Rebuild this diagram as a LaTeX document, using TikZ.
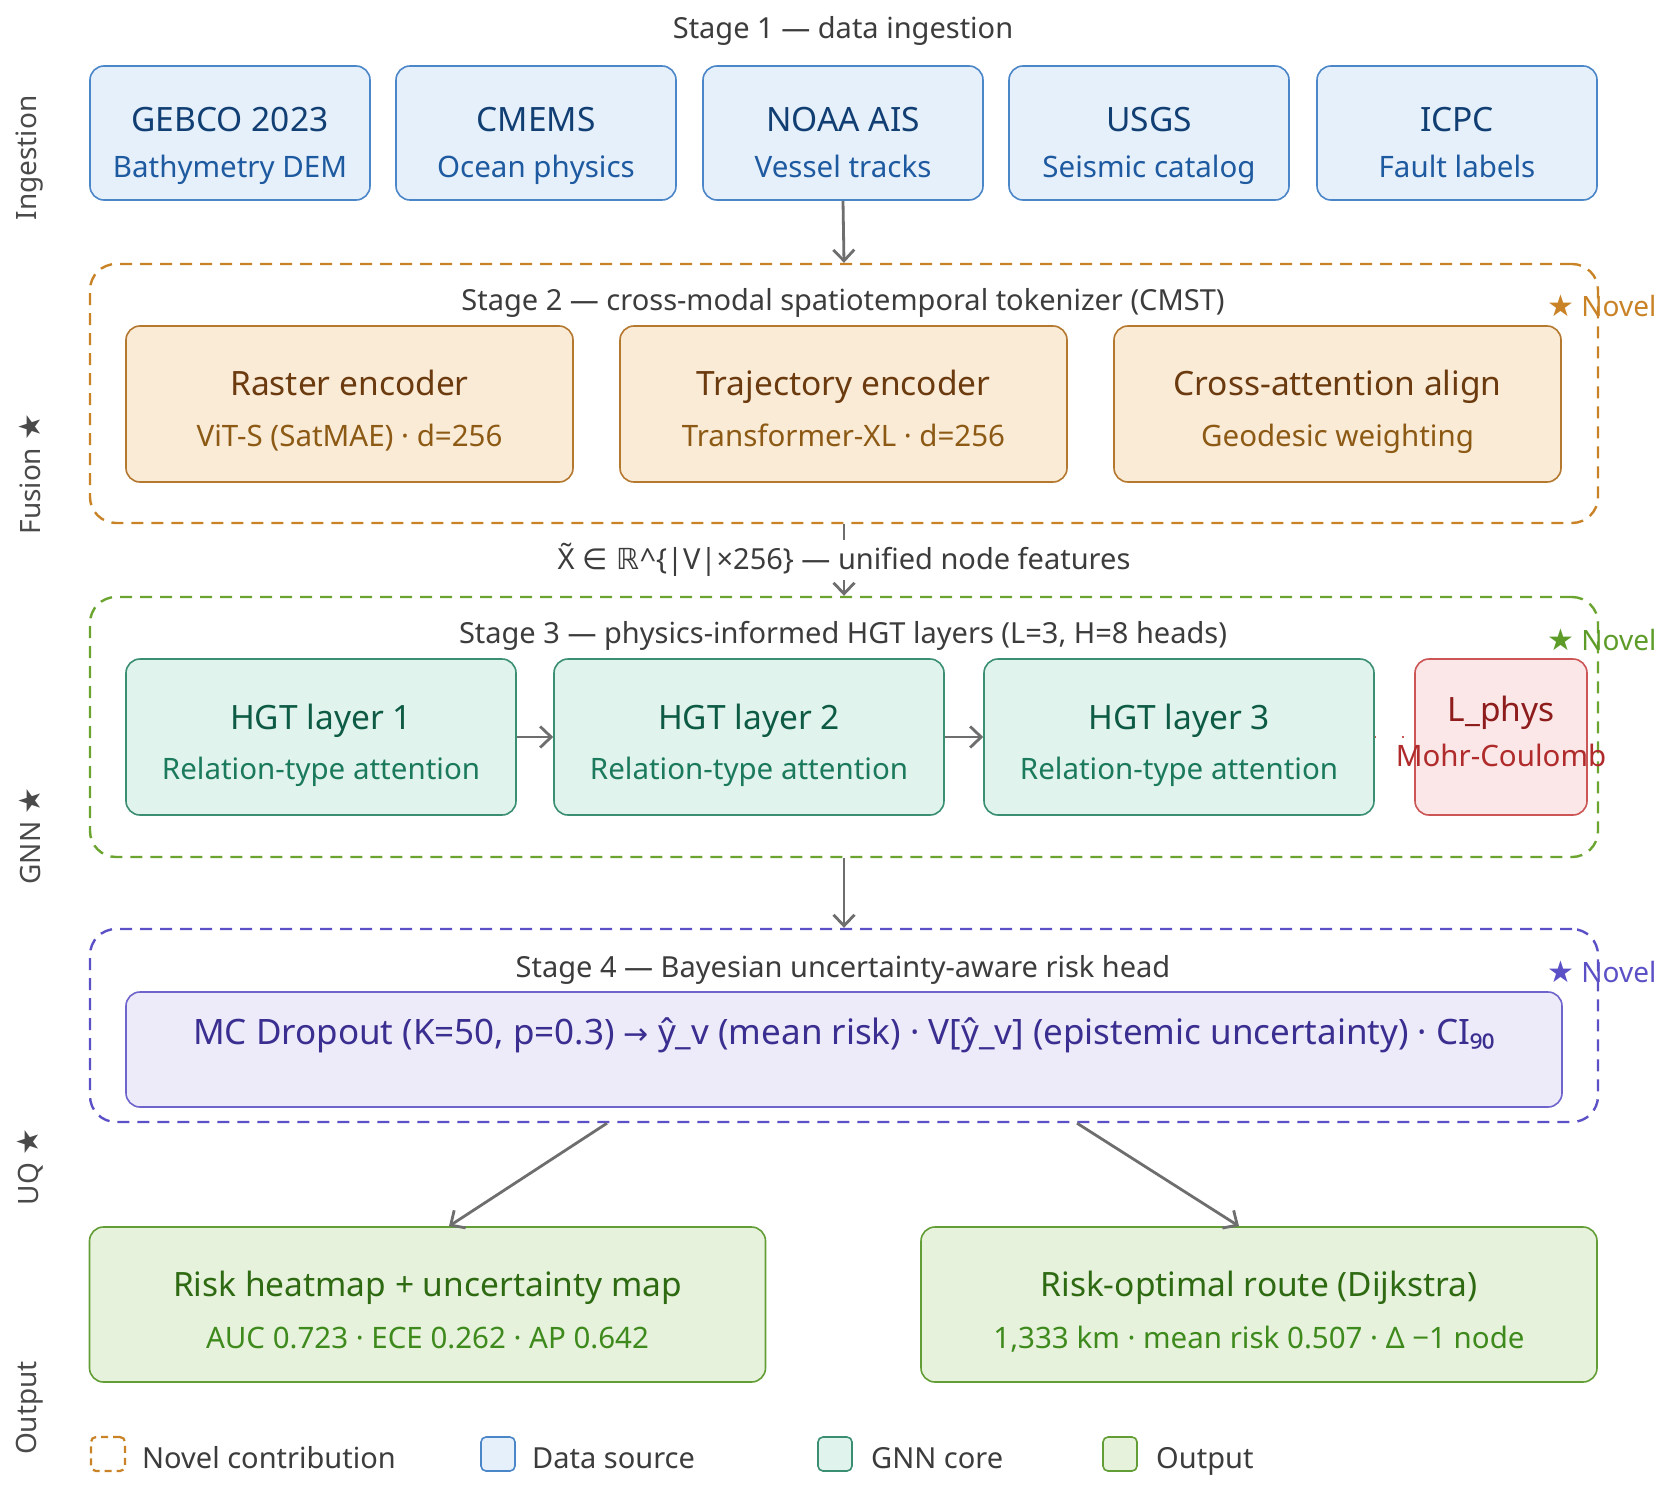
\documentclass[tikz,border=0pt]{standalone}
\usepackage{fontspec}
\setmainfont{Noto Sans}
\newfontfamily\symf{DejaVu Sans}
\usetikzlibrary{arrows.meta}
\newcommand\myfs[1]{\fontsize{#1}{#1}\selectfont}
\definecolor{srcF}{HTML}{E6F0FB}\definecolor{srcB}{HTML}{4A86C8}
\definecolor{srcT}{HTML}{113F73}\definecolor{srcS}{HTML}{1E5AA0}
\definecolor{sTwoB}{HTML}{C98326}\definecolor{encF}{HTML}{FAEBD7}
\definecolor{encB}{HTML}{B5782F}\definecolor{encT}{HTML}{6B3A0E}\definecolor{encS}{HTML}{8C5A14}
\definecolor{sThreeB}{HTML}{6BA530}\definecolor{gnnF}{HTML}{E0F3EC}
\definecolor{gnnB}{HTML}{3A8F72}\definecolor{gnnT}{HTML}{0E5B45}\definecolor{gnnS}{HTML}{1B7A5C}
\definecolor{physF}{HTML}{FBE7E7}\definecolor{physB}{HTML}{CC5555}
\definecolor{physT}{HTML}{8E1C1C}\definecolor{physS}{HTML}{B02B2B}
\definecolor{sFourB}{HTML}{5B50C6}\definecolor{uqF}{HTML}{EDEBFA}
\definecolor{uqB}{HTML}{6E64CC}\definecolor{uqT}{HTML}{3A2E90}
\definecolor{outF}{HTML}{E7F2DD}\definecolor{outB}{HTML}{629E35}
\definecolor{outT}{HTML}{2E6A12}\definecolor{outS}{HTML}{3E8A1C}
\definecolor{stT}{HTML}{3C3C3C}\definecolor{sideT}{HTML}{4A4A4A}
\definecolor{arrC}{HTML}{6E6E6E}\definecolor{novG}{HTML}{5E9C2A}
\begin{document}
\begin{tikzpicture}[x=1pt,y=-1pt,
  box/.style={rectangle, rounded corners=14pt, line width=1.6pt, inner sep=0pt},
  srcbox/.style={box, draw=srcB, fill=srcF, minimum width=280pt, minimum height=134pt},
  encbox/.style={box, draw=encB, fill=encF, minimum width=447pt, minimum height=156pt},
  gnnbox/.style={box, draw=gnnB, fill=gnnF, minimum width=390pt, minimum height=156pt},
  physbox/.style={box, draw=physB, fill=physF, minimum width=172pt, minimum height=156pt},
  uqbox/.style={box, draw=uqB, fill=uqF, minimum width=1436pt, minimum height=115pt},
  outbox/.style={box, draw=outB, fill=outF, minimum width=676pt, minimum height=155pt},
  stagebox/.style={rectangle, rounded corners=26pt, line width=2.4pt, dash pattern=on 12pt off 8pt, minimum width=1508pt, inner sep=0pt},
  ttl/.style={anchor=base, inner sep=0pt, font=\myfs{33.5}},
  sub/.style={anchor=base, inner sep=0pt, font=\myfs{29.5}},
  stagettl/.style={anchor=base, inner sep=0pt, font=\myfs{29}, text=stT},
  novel/.style={anchor=base west, inner sep=0pt, font=\myfs{28}},
  side/.style={rotate=90, inner sep=0pt, font=\myfs{28}, text=sideT},
  legtxt/.style={anchor=base west, inner sep=0pt, font=\myfs{29}, text=stT},
  arr/.style={draw=arrC, line width=2.8pt, -{Straight Barb[length=11pt,width=21pt,line width=2.8pt]}}
]
\fill[white] (0,0) rectangle (1675,1490);
\useasboundingbox (0,0) rectangle (1675,1490);

% side labels
\node[side] (lIng) at (30,158) {Ingestion};
\node[side] (lFus) at (30,474) {Fusion {\symf\myfs{30}★}};
\node[side] (lGnn) at (30,836) {GNN {\symf\myfs{30}★}};
\node[side] (lUq) at (30,1167) {UQ {\symf\myfs{30}★}};
\node[side] (lOut) at (30,1408) {Output};

% Stage 1
\node[stagettl] (t1) at (843,39) {Stage 1 — data ingestion};
\node[srcbox] (i1) at (230,133) {};
\node[srcbox] (i2) at (536,133) {};
\node[srcbox] (i3) at (843,133) {};
\node[srcbox] (i4) at (1149,133) {};
\node[srcbox] (i5) at (1457,133) {};
\node[ttl,text=srcT] (i1t) at (230,132) {GEBCO 2023};
\node[sub,text=srcS] (i1s) at (230,178) {Bathymetry DEM};
\node[ttl,text=srcT] (i2t) at (536,132) {CMEMS};
\node[sub,text=srcS] (i2s) at (536,178) {Ocean physics};
\node[ttl,text=srcT] (i3t) at (843,132) {NOAA AIS};
\node[sub,text=srcS] (i3s) at (843,178) {Vessel tracks};
\node[ttl,text=srcT] (i4t) at (1149,132) {USGS};
\node[sub,text=srcS] (i4s) at (1149,178) {Seismic catalog};
\node[ttl,text=srcT] (i5t) at (1457,132) {ICPC};
\node[sub,text=srcS] (i5s) at (1457,178) {Fault labels};

% Stage 2
\node[stagebox, draw=sTwoB, minimum height=259pt] (s2) at (844,393.5) {};
\node[stagettl] (t2) at (843,310) {Stage 2 — cross-modal spatiotemporal tokenizer (CMST)};
\node[novel,text=sTwoB] (n2) at (1547,316) {{\symf\myfs{30}★} Novel};
\node[encbox] (e1) at (349.5,404) {};
\node[encbox] (e2) at (843.5,404) {};
\node[encbox] (e3) at (1337.5,404) {};
\node[ttl,text=encT] (e1t) at (349.5,395) {Raster encoder};
\node[sub,text=encS] (e1s) at (349.5,446) {ViT-S (SatMAE) · d=256};
\node[ttl,text=encT] (e2t) at (843.5,395) {Trajectory encoder};
\node[sub,text=encS] (e2s) at (843.5,446) {Transformer-XL · d=256};
\node[ttl,text=encT] (e3t) at (1337.5,395) {Cross-attention align};
\node[sub,text=encS] (e3s) at (1337.5,446) {Geodesic weighting};

\draw[arr] (i3.south) -- (s2.north);

% Stage 3
\node[stagebox, draw=sThreeB, minimum height=260pt] (s3) at (844,727) {};
\node[stagettl] (t3) at (843,643) {Stage 3 — physics-informed HGT layers (L=3, H=8 heads)};
\node[novel,text=novG] (n3) at (1547,650) {{\symf\myfs{30}★} Novel};
\node[gnnbox] (h1) at (321,737) {};
\node[gnnbox] (h2) at (749,737) {};
\node[gnnbox] (h3) at (1179,737) {};
\node[physbox] (ph) at (1501,737) {};
\node[ttl,text=gnnT] (h1t) at (321,729) {HGT layer 1};
\node[sub,text=gnnS] (h1s) at (321,779) {Relation-type attention};
\node[ttl,text=gnnT] (h2t) at (749,729) {HGT layer 2};
\node[sub,text=gnnS] (h2s) at (749,779) {Relation-type attention};
\node[ttl,text=gnnT] (h3t) at (1179,729) {HGT layer 3};
\node[sub,text=gnnS] (h3s) at (1179,779) {Relation-type attention};
\node[ttl,text=physT] (pht) at (1501,721) {L\_phys};
\node[sub,text=physS] (phs) at (1501,766) {Mohr-Coulomb};
\draw[arr] (h1.east) -- (h2.west);
\draw[arr] (h2.east) -- (h3.west);
\draw[draw=physB, line width=1.5pt, dash pattern=on 1.5pt off 26pt] (h3.east) -- (ph.west);

\draw[arr] (s2.south) -- (s3.north)
  node[midway, fill=white, inner sep=3pt, font=\myfs{29}, text=stT] (xlab)
  {X̃ {\symf ∈ ℝ}\^{}\{|V|×256\} — unified node features};

% Stage 4
\node[stagebox, draw=sFourB, minimum height=193pt] (s4) at (844,1025.5) {};
\node[stagettl] (t4) at (843,977) {Stage 4 — Bayesian uncertainty-aware risk head};
\node[novel,text=sFourB] (n4) at (1547,982) {{\symf\myfs{30}★} Novel};
\node[uqbox] (mc) at (844,1049.5) {};
\node[anchor=base, inner sep=0pt, font=\myfs{35}, text=uqT] (mct) at (844,1044) {MC Dropout (K=50, p=0.3) {\symf\myfs{30}→} ŷ\_v (mean risk) · V[ŷ\_v] (epistemic uncertainty) · CI₉₀};

\draw[arr] (s3.south) -- (s4.north);

% Outputs
\node[outbox] (o1) at (427.5,1304.5) {};
\node[outbox] (o2) at (1259,1304.5) {};
\node[ttl,text=outT] (o1t) at (427.5,1296) {Risk heatmap + uncertainty map};
\node[sub,text=outS] (o1s) at (427.5,1348) {AUC 0.723 · ECE 0.262 · AP 0.642};
\node[ttl,text=outT] (o2t) at (1259,1296) {Risk-optimal route (Dijkstra)};
\node[sub,text=outS] (o2s) at (1259,1348) {1,333 km · mean risk 0.507 · Δ −1 node};

\draw[arr] ([xshift=-237pt]s4.south) -- ([xshift=21.5pt]o1.north);
\draw[arr] ([xshift=233pt]s4.south) -- ([xshift=-20pt]o2.north);

% Legend
\node[rectangle, rounded corners=5pt, draw=sTwoB, line width=2.2pt, dash pattern=on 7pt off 5pt, minimum width=34pt, minimum height=34pt, inner sep=0pt] (k1) at (108,1454) {};
\node[legtxt] (k1t) at (142,1468) {Novel contribution};
\node[rectangle, rounded corners=5pt, draw=srcB, fill=srcF, line width=1.6pt, minimum width=34pt, minimum height=34pt, inner sep=0pt] (k2) at (498,1454) {};
\node[legtxt] (k2t) at (532,1468) {Data source};
\node[rectangle, rounded corners=5pt, draw=gnnB, fill=gnnF, line width=1.6pt, minimum width=34pt, minimum height=34pt, inner sep=0pt] (k3) at (835,1454) {};
\node[legtxt] (k3t) at (871,1468) {GNN core};
\node[rectangle, rounded corners=5pt, draw=outB, fill=outF, line width=1.6pt, minimum width=34pt, minimum height=34pt, inner sep=0pt] (k4) at (1120,1454) {};
\node[legtxt] (k4t) at (1156,1468) {Output};
\end{tikzpicture}
\end{document}
